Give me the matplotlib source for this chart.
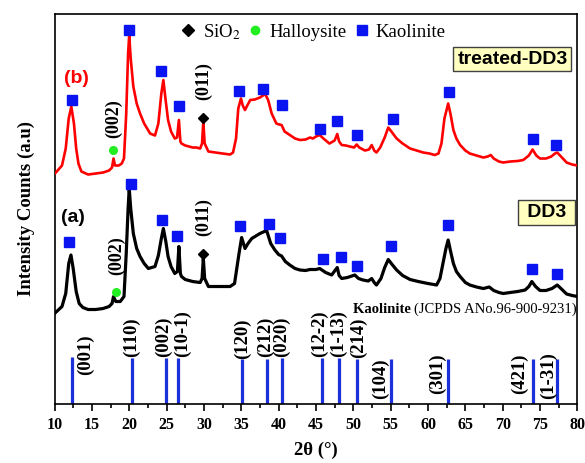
import matplotlib
matplotlib.use("Agg")
import matplotlib.pyplot as plt
from matplotlib.lines import Line2D
from matplotlib.ticker import MultipleLocator

plt.rcParams['mathtext.fontset'] = 'stix'

# ---------------- data ----------------
# (b) treated-DD3 (red)
red_tt = [10.0, 11.0, 11.5, 11.9, 12.25, 12.6, 12.9, 13.2, 13.6, 14.5, 15.5, 16.5, 17.3, 17.7, 17.9, 18.1,
          18.6, 19.0, 19.3, 19.6, 19.85, 20.0, 20.2, 20.55, 21.0, 21.45, 22.0, 22.8, 23.45, 23.9, 24.3,
          24.57, 24.85, 25.2, 25.6, 26.1, 26.4, 26.65, 26.85, 27.0, 27.5, 28.0, 28.5, 29.0, 29.5, 29.75,
          29.92, 30.1, 30.6, 31.5, 32.5, 33.5, 33.9, 34.3, 34.6, 34.96, 35.2, 35.5, 35.8, 36.2, 36.8,
          37.5, 38.2, 38.6, 39.07, 39.7, 40.1, 40.4, 40.8, 41.5, 42.2, 42.86, 43.6, 44.2, 44.6, 45.0,
          45.5, 46.0, 46.8, 47.5, 47.85, 48.1, 48.45, 49.0, 49.55, 50.1, 50.45, 50.8, 51.56, 52.1,
          52.46, 52.8, 53.1, 53.6, 54.2, 54.68, 55.2, 55.8, 56.6, 57.6, 58.5, 59.36, 60.2, 60.9, 61.4,
          61.8, 62.2, 62.7, 63.0, 63.4, 63.8, 64.3, 65.0, 65.6, 66.5, 67.4, 68.0, 68.4, 68.8, 69.5,
          70.07, 71.0, 72.0, 72.75, 73.5, 74.0, 74.5, 75.0, 75.8, 76.5, 77.0, 77.3, 77.8, 78.56, 79.3, 80.0]
red_int = [229.5, 238, 255, 285, 297, 280, 255, 240, 232, 229, 230, 231, 233, 236, 245, 238,
           238, 240, 245, 290, 350, 368.5, 345, 317, 300, 290, 280, 270, 268, 280, 310,
           323.5, 305, 283.5, 272, 265, 266, 283.5, 262, 260, 258, 257, 256, 256, 255, 260,
           282, 260, 252, 251, 250, 249, 251, 265, 295, 305, 298, 293.5, 298, 303.5, 304,
           306, 309.5, 303.5, 290, 280, 279, 278.5, 272, 268.5, 265, 263.5, 264, 266, 265, 267,
           268.5, 265, 260, 263, 269.5, 262, 258.5, 258, 257, 256, 259, 256, 253, 254,
           258.5, 253, 251, 256, 266, 276, 271, 265, 260, 255, 253, 251, 250, 248.5, 250,
           260, 285, 300, 290, 273.5, 265, 258.5, 253, 250, 248, 246, 247, 248.5, 245, 242,
           241, 242, 242.5, 243.5, 248, 254, 248, 245, 245, 247, 250, 251, 247, 241, 239, 238]

# (a) DD3 (black)
blk_tt = [10.0, 11.0, 11.5, 11.9, 12.2, 12.5, 12.9, 13.3, 13.8, 14.5, 15.5, 16.5, 17.3, 17.7, 17.9, 18.2,
          18.8, 19.3, 19.6, 19.85, 20.0, 20.2, 20.55, 21.0, 21.45, 22.0, 22.56, 23.45, 23.9, 24.3, 24.57,
          24.9, 25.2, 25.6, 26.1, 26.45, 26.65, 26.85, 27.0, 27.5, 28.5, 29.5, 29.75, 29.92, 30.1, 30.6,
          31.5, 32.5, 33.5, 34.1, 34.4, 34.7, 35.05, 35.5, 35.9, 36.4, 37.5, 38.4, 38.94, 39.5, 40.0,
          40.4, 40.9, 41.5, 42.2, 42.86, 43.6, 44.2, 45.0, 45.5, 46.3, 47.1, 47.85, 48.1, 48.45, 49.2,
          50.2, 50.7, 51.3, 52.0, 52.46, 52.8, 53.1, 53.7, 54.2, 54.68, 55.2, 55.8, 56.6, 57.6, 58.7,
          60.0, 61.15, 61.6, 62.0, 62.4, 62.7, 63.0, 63.4, 63.8, 64.3, 65.0, 65.6, 66.5, 67.4, 68.2,
          68.8, 69.5, 70.07, 71.0, 72.0, 73.0, 73.5, 73.9, 74.4, 75.0, 75.8, 76.6, 77.3, 77.8, 78.56,
          79.3, 80.0]
blk_int = [90, 97, 110, 140, 148.5, 135, 112, 100, 96, 94, 94, 95, 97, 100, 107, 102,
           102, 107, 150, 195, 215, 195, 170, 155, 147, 140, 135, 137, 148, 165, 175,
           162, 147, 137, 130, 132, 157, 130, 127, 124, 122, 121, 125, 145, 125, 117,
           117, 117, 117, 120, 135, 150, 166, 155, 160, 165, 170, 173, 160, 153.5, 149,
           147.5, 142, 138.5, 135, 133.5, 133, 134, 134, 135, 131, 128.5, 136, 128, 125, 126,
           128.5, 125, 123.5, 122.5, 125, 121, 118.5, 125, 136, 144, 139, 133.5, 128, 124, 122,
           120, 118.5, 125, 140, 155, 163.5, 153, 140, 132, 127, 121, 118.5, 116.5, 115, 116.5,
           113, 111, 110, 111, 112, 113.5, 117, 122, 117, 113, 113, 115, 118.5, 115, 109.5,
           108, 107]

# phase markers
red_kao_tt = [12.3, 19.97, 24.2, 26.7, 34.7, 37.95, 40.4, 45.6, 47.85, 50.5, 55.27, 62.85, 74.1, 77.2]
red_kao_int = [304, 374, 332.5, 297.5, 312.5, 315, 299, 275, 283, 268.5, 284.5, 312, 264.5, 259]
blk_kao_tt = [12.0, 20.24, 24.43, 26.35, 34.83, 38.7, 40.2, 45.98, 48.35, 50.45, 55.04, 62.7, 73.95, 77.3]
blk_kao_int = [162, 219.5, 184, 167.5, 177.5, 180, 166, 145, 147, 137.5, 157.5, 178.5, 135, 129.5]
red_hal_tt, red_hal_int = [17.87], [254]
blk_hal_tt, blk_hal_int = [18.19], [112]
red_sio2_tt, red_sio2_int = [29.92], [286]
blk_sio2_tt, blk_sio2_int = [29.84], [150]

# Kaolinite reference pattern (JCPDS 96-900-9231)
ref_tt = [12.38, 20.42, 24.92, 26.49, 35.14, 38.44, 40.45, 45.76, 48.08, 50.49, 55.08, 62.63, 74.0, 77.3]
ref_int = [47, 46, 46, 46, 45, 45, 46, 46, 46, 45, 45, 45, 45, 45]
ref_hkl = ['(001)', '(110)', '(002)', '(10-1)', '(120)', '(212)', '(020)', '(12-2)', '(1-13)', '(214)',
           '(104)', '(301)', '(421)', '(1-31)']

x_ticks = [10, 15, 20, 25, 30, 35, 40, 45, 50, 55, 60, 65, 70, 75, 80]

# ---------------- layout ----------------
hkl_lab_x = [14.1, 20.33, 24.57, 27.15, 35.1, 38.2, 40.4, 45.45, 47.99, 50.67, 53.66, 61.3, 72.2, 76.1]
hkl_lab_y = [48.5, 46.5, 46.5, 46.5, 45, 46.5, 46.5, 46.5, 46.5, 45.5, 25, 29.5, 30, 27.5]
hkl_lab_va = ['center', 'bottom', 'bottom', 'bottom', 'bottom', 'bottom', 'bottom', 'bottom', 'bottom',
              'bottom', 'center', 'center', 'center', 'center']

serif = 'Liberation Serif'
sans = 'Liberation Sans'

fig = plt.figure(figsize=(5.85, 4.63), dpi=100)
ax = fig.add_axes([0.0932, 0.1285, 0.8938, 0.8423])

ax.plot(red_tt, red_int, color='#ff0000', lw=1.9, zorder=3)
ax.plot(blk_tt, blk_int, color='black', lw=2.3, zorder=3)

blue = '#0a14f0'
ax.plot(red_kao_tt, red_kao_int, ls='none', marker='s', ms=6.5, color=blue, zorder=4)
ax.plot(blk_kao_tt, blk_kao_int, ls='none', marker='s', ms=6.5, color=blue, zorder=4)
ax.plot(red_hal_tt, red_hal_int, ls='none', marker='o', ms=5.5, color='#22ee22', zorder=4)
ax.plot(blk_hal_tt, blk_hal_int, ls='none', marker='o', ms=5.5, color='#22ee22', zorder=4)
ax.plot(red_sio2_tt, red_sio2_int, ls='none', marker='D', ms=5.5, color='black', zorder=4)
ax.plot(blk_sio2_tt, blk_sio2_int, ls='none', marker='D', ms=5.5, color='black', zorder=4)

ax.vlines(ref_tt, 0, ref_int, color='#1a30d8', lw=2.3, zorder=2)
for lab, lx, ly, va in zip(ref_hkl, hkl_lab_x, hkl_lab_y, hkl_lab_va):
    ax.text(lx, ly, lab, rotation=90, ha='center', va=va, fontsize=13.5,
            fontweight='bold', family=serif)

# peak labels
ax.text(17.87, 285, '(002)', rotation=90, ha='center', va='center', fontsize=13,
        fontweight='bold', family=serif)
ax.text(18.3, 147.5, '(002)', rotation=90, ha='center', va='center', fontsize=13,
        fontweight='bold', family=serif)
ax.text(30.0, 322, '(011)', rotation=90, ha='center', va='center', fontsize=13,
        fontweight='bold', family=serif)
ax.text(30.0, 186, '(011)', rotation=90, ha='center', va='center', fontsize=13,
        fontweight='bold', family=serif)

ax.text(12.95, 325, '(b)', color='#ff0000', ha='center', va='center', fontsize=14,
        fontweight='bold', family=sans)
ax.text(12.5, 186, '(a)', color='black', ha='center', va='center', fontsize=14,
        fontweight='bold', family=sans)

box = dict(boxstyle='square,pad=0.2', fc='#ffffc0', ec='#404040', lw=1.0)
ax.text(71.3, 344.5, 'treated-DD3', ha='center', va='center', fontsize=14, fontweight='bold',
        family=sans, bbox=box)
ax.text(75.9, 191, ' DD3 ', ha='center', va='center', fontsize=14, fontweight='bold',
        family=sans, bbox=box)

t2 = ax.text(79.95, 94.5, '(JCPDS ANo.96-900-9231)', ha='right', va='center', fontsize=10.5,
             family=serif)
ax.annotate('Kaolinite ', xy=(0, 0.5), xycoords=t2, ha='right', va='center', fontsize=10.5,
            fontweight='bold', family=serif)

handles = [Line2D([], [], ls='none', marker='D', ms=6.5, color='black'),
           Line2D([], [], ls='none', marker='o', ms=6, color='#22ee22'),
           Line2D([], [], ls='none', marker='s', ms=7, color=blue)]
ax.legend(handles, ['SiO$_2$', 'Halloysite', 'Kaolinite'], ncol=3, frameon=False,
          loc='center', bbox_to_anchor=(0.494, 0.953), handlelength=0.9, handletextpad=0.3,
          columnspacing=0.35, prop={'family': serif, 'size': 13.5}, borderaxespad=0)

ax.set_xlim(10, 80)
ax.set_ylim(0, 390)
ax.set_xticks(x_ticks)
ax.xaxis.set_minor_locator(MultipleLocator(2.5))
ax.set_yticks([])
ax.tick_params(axis='x', which='major', direction='out', length=5, width=1.2, pad=5)
ax.tick_params(axis='x', which='minor', direction='out', length=3, width=1.2)
for lab in ax.get_xticklabels():
    lab.set_fontfamily(serif)
    lab.set_fontweight('bold')
    lab.set_fontsize(11.5)
for s in ax.spines.values():
    s.set_linewidth(1.2)

ax.set_xlabel('2θ (°)', fontsize=13.5, fontweight='bold', family=serif, labelpad=6)
ax.set_ylabel('Intensity Counts (a.u)', fontsize=13.5, fontweight='bold', family=serif, labelpad=14)

fig.savefig('out.png', dpi=100)
